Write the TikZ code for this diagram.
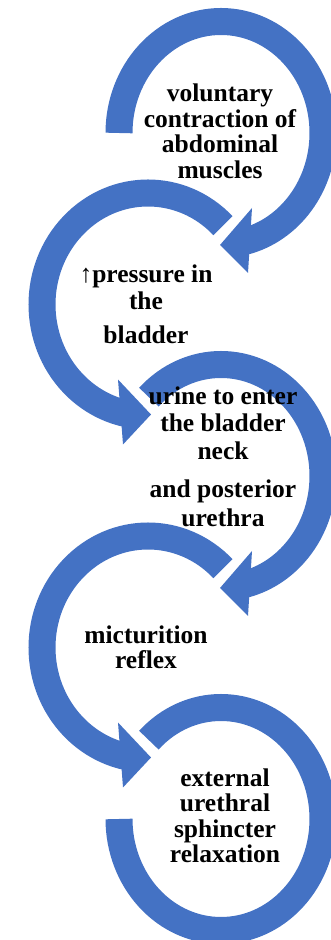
\documentclass[tikz,border=0pt]{standalone}
\usepackage{fontspec}
\setmainfont{Liberation Serif}
\usepackage{tikz}
\usetikzlibrary{calc}
\definecolor{ringBlue}{RGB}{68,114,196}

\begin{document}
\begin{tikzpicture}[x=1pt, y=1pt,
  ringarc/.style={draw=ringBlue, line width=27pt, line cap=butt},
  ringhead/.style={fill=ringBlue},
  steptext/.style={align=center, inner sep=0pt, text=black,
                   font=\bfseries\fontsize{25.5}{25.5}\selectfont}
]
\useasboundingbox (0,0) rectangle (331,940);
\clip (0,0) rectangle (331,940);
%% circle centres
\coordinate (c1) at (221,807);
\coordinate (c2) at (148,635.5);
\coordinate (c3) at (221,464);
\coordinate (c4) at (148,292.5);
\coordinate (c5) at (221,121);
%% Right rings (clockwise)
\draw[ringarc] (c1) ++(180:102 and 111.5)
  arc[start angle=180, end angle=-77, x radius=102pt, y radius=111.5pt];
\fill[ringhead, shift={(c1)}] (31,-75) -- (27,-140) -- (-1,-112) -- cycle;
\draw[ringarc] (c3) ++(135:102 and 111.5)
  arc[start angle=135, end angle=-77, x radius=102pt, y radius=111.5pt];
\fill[ringhead, shift={(c3)}] (31,-75) -- (27,-140) -- (-1,-112) -- cycle;
\draw[ringarc] (c5) ++(135:102 and 111.5)
  arc[start angle=135, end angle=-180, x radius=102pt, y radius=111.5pt];
%% Left rings (counter-clockwise)
\draw[ringarc] (c2) ++(45:106 and 111.5)
  arc[start angle=45, end angle=258, x radius=106pt, y radius=111.5pt];
\fill[ringhead, shift={(c2)}] (-30,-75) -- (-25,-140) -- (3,-110) -- cycle;
\draw[ringarc] (c4) ++(45:106 and 111.5)
  arc[start angle=45, end angle=258, x radius=106pt, y radius=111.5pt];
\fill[ringhead, shift={(c4)}] (-30,-75) -- (-25,-140) -- (3,-110) -- cycle;
%% Labels
\node[steptext] (VOL) at (220,808.6) {voluntary\\contraction of\\abdominal\\muscles};
\node[steptext] (PRE) at (146,635.3) {↑pressure in\\[1.5pt]the\\[8.5pt]bladder};
\node[steptext] (URI) at (223,482.8) {urine to enter\\[1.5pt]the bladder\\[2.5pt]neck\\[12.5pt]and posterior\\[3.5pt]urethra};
\node[steptext] (MIC) at (146,292.5) {micturition\\reflex};
\node[steptext] (EXT) at (225,124.1) {external\\urethral\\sphincter\\relaxation};
\end{tikzpicture}
\end{document}
